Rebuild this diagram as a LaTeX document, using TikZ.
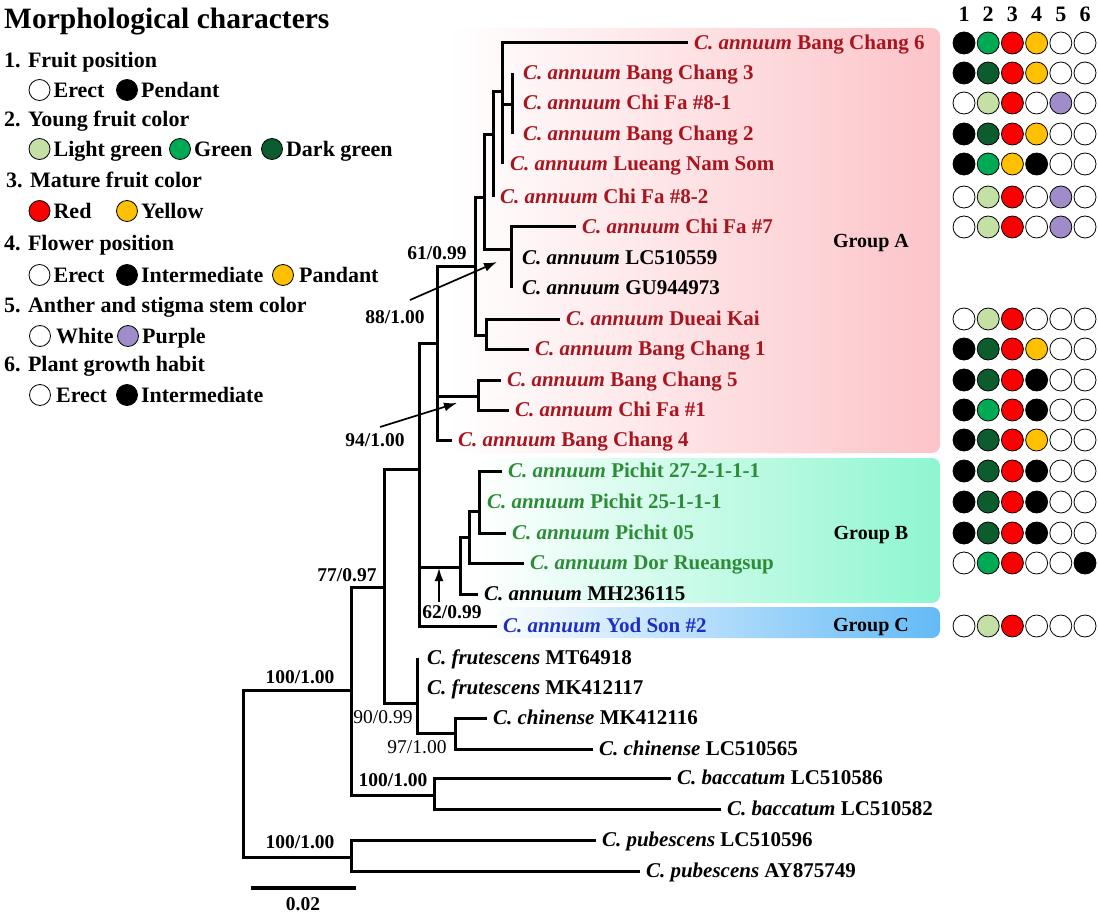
\documentclass[tikz,border=0pt]{standalone}
\usepackage{fontspec}
\setmainfont{Liberation Serif}
\usetikzlibrary{positioning,arrows.meta}
\definecolor{lgreen}{RGB}{197,224,165}
\definecolor{mgreen}{RGB}{0,170,85}
\definecolor{dgreen}{RGB}{12,92,46}
\definecolor{fred}{RGB}{250,0,0}
\definecolor{fyellow}{RGB}{255,192,0}
\definecolor{fpurple}{RGB}{160,140,200}
\definecolor{txtred}{RGB}{170,20,30}
\definecolor{txtgreen}{RGB}{45,140,55}
\definecolor{txtblue}{RGB}{30,45,200}
\definecolor{boxA}{RGB}{252,196,201}
\definecolor{boxB}{RGB}{142,246,208}
\definecolor{boxC}{RGB}{100,186,246}
\newcommand{\Ca}[1]{\textit{C. annuum} #1}
\newcommand{\Cs}[2]{\textit{C. #1} #2}
\tikzset{
	br/.style={line width=3pt},
	arr/.style={line width=1.7pt, -{Latex[length=13pt,width=9pt]}},
	taxon/.style={anchor=west, inner xsep=6pt, inner ysep=0pt, outer sep=0pt, text height=13.5pt, text depth=0pt, font=\fontsize{21}{25}\selectfont\bfseries},
	supp/.style={inner sep=0pt, outer sep=2pt, text height=13pt, text depth=0pt, font=\fontsize{19.5}{23}\selectfont\bfseries},
	suppthin/.style={supp, font=\fontsize{19.5}{23}\selectfont},
	grp/.style={inner sep=0pt, text height=13pt, text depth=0pt, font=\fontsize{20}{24}\selectfont\bfseries},
	hdr/.style={inner sep=0pt, text height=14pt, text depth=0pt, font=\fontsize{22}{26}\selectfont\bfseries},
	dot/.style={circle, draw=black, line width=0.8pt, minimum size=22pt, inner sep=0pt},
	ldot/.style={circle, draw=black, line width=0.8pt, minimum size=21pt, inner sep=0pt},
	leg/.style={anchor=west, inner sep=0pt, text height=14.5pt, text depth=0pt, font=\fontsize{22}{26}\selectfont\bfseries},
	ttl/.style={anchor=west, inner sep=0pt, text height=19pt, text depth=0pt, font=\fontsize{29.5}{34}\selectfont\bfseries}
}
\begin{document}
\begin{tikzpicture}[x=1pt,y=-1pt]
	\useasboundingbox (0,0) rectangle (1098,920);
	\shade[rounded corners=8pt, left color=white, right color=boxA] (447,28) rectangle (940,453);
	\shade[rounded corners=8pt, left color=white, right color=boxB] (476,458) rectangle (940,603);
	\shade[rounded corners=8pt, left color=white, right color=boxC] (486,607) rectangle (940,638);
	\node[grp] (gA) at (871,241) {Group A};
	\node[grp] (gB) at (871,533) {Group B};
	\node[grp] (gC) at (871,625) {Group C};

	\node[ttl] (title) at (4,19) {Morphological characters};
	\node[leg] (c1) at (4,60) {1. Fruit position};
	\node[ldot, fill=white] (d1a) at (39.5,90) {};
	\node[leg, right=3pt of d1a] (t1a) {Erect};
	\node[ldot, fill=black] (d1b) at (127,90) {};
	\node[leg, right=3pt of d1b] (t1b) {Pendant};
	\node[leg] (c2) at (4,119) {2. Young fruit color};
	\node[ldot, fill=lgreen] (d2a) at (39.5,149) {};
	\node[leg, right=3pt of d2a] (t2a) {Light green};
	\node[ldot, fill=mgreen] (d2b) at (180,149) {};
	\node[leg, right=3pt of d2b] (t2b) {Green};
	\node[ldot, fill=dgreen] (d2c) at (272,149) {};
	\node[leg, right=3pt of d2c] (t2c) {Dark green};
	\node[leg] (c3) at (6,180) {3. Mature fruit color};
	\node[ldot, fill=fred] (d3a) at (39.5,211) {};
	\node[leg, right=3pt of d3a] (t3a) {Red};
	\node[ldot, fill=fyellow] (d3b) at (127,211) {};
	\node[leg, right=3pt of d3b] (t3b) {Yellow};
	\node[leg] (c4) at (4,243) {4. Flower position};
	\node[ldot, fill=white] (d4a) at (39.5,275) {};
	\node[leg, right=3pt of d4a] (t4a) {Erect};
	\node[ldot, fill=black] (d4b) at (127,275) {};
	\node[leg, right=3pt of d4b] (t4b) {Intermediate};
	\node[ldot, fill=fyellow] (d4c) at (283,275) {};
	\node[leg, right=5pt of d4c] (t4c) {Pandant};
	\node[leg] (c5) at (4,305) {5. Anther and stigma stem color};
	\node[ldot, fill=white] (d5a) at (40,336) {};
	\node[leg, right=5pt of d5a] (t5a) {White};
	\node[ldot, fill=fpurple] (d5b) at (128,336) {};
	\node[leg, right=3pt of d5b] (t5b) {Purple};
	\node[leg] (c6) at (4,364) {6. Plant growth habit};
	\node[ldot, fill=white] (d6a) at (40,395) {};
	\node[leg, right=5pt of d6a] (t6a) {Erect};
	\node[ldot, fill=black] (d6b) at (127,395) {};
	\node[leg, right=3pt of d6b] (t6b) {Intermediate};

	\node[taxon, text=txtred] (bcsix) at (688,43) {\Ca{Bang Chang 6}};
	\node[taxon, text=txtred] (bcthree) at (517,73) {\Ca{Bang Chang 3}};
	\node[taxon, text=txtred] (cfeightone) at (517,103) {\Ca{Chi Fa \#8-1}};
	\node[taxon, text=txtred] (bctwo) at (517,134) {\Ca{Bang Chang 2}};
	\node[taxon, text=txtred] (lns) at (504,164) {\Ca{Lueang Nam Som}};
	\node[taxon, text=txtred] (cfeighttwo) at (494,197) {\Ca{Chi Fa \#8-2}};
	\node[taxon, text=txtred] (cfseven) at (576,227) {\Ca{Chi Fa \#7}};
	\node[taxon] (lcfivenine) at (516,258) {\Ca{LC510559}};
	\node[taxon] (gunine) at (516,288) {\Ca{GU944973}};
	\node[taxon, text=txtred] (dk) at (560,319) {\Ca{Dueai Kai}};
	\node[taxon, text=txtred] (bcone) at (529,349) {\Ca{Bang Chang 1}};
	\node[taxon, text=txtred] (bcfive) at (501,380) {\Ca{Bang Chang 5}};
	\node[taxon, text=txtred] (cfone) at (509,410) {\Ca{Chi Fa \#1}};
	\node[taxon, text=txtred] (bcfour) at (452,440) {\Ca{Bang Chang 4}};
	\node[taxon, text=txtgreen] (ptseven) at (502,471) {\Ca{Pichit 27-2-1-1-1}};
	\node[taxon, text=txtgreen] (ptfive) at (481,502) {\Ca{Pichit 25-1-1-1}};
	\node[taxon, text=txtgreen] (ptzero) at (506,533) {\Ca{Pichit 05}};
	\node[taxon, text=txtgreen] (dor) at (524,563) {\Ca{Dor Rueangsup}};
	\node[taxon] (mh) at (478,594) {\Ca{MH236115}};
	\node[taxon, text=txtblue] (yod) at (497,626) {\Ca{Yod Son \#2}};
	\node[taxon] (mteight) at (421,658) {\Cs{frutescens}{MT64918}};
	\node[taxon] (mkseven) at (421,688) {\Cs{frutescens}{MK412117}};
	\node[taxon] (mksix) at (487,718) {\Cs{chinense}{MK412116}};
	\node[taxon] (lcfive) at (593,749) {\Cs{chinense}{LC510565}};
	\node[taxon] (lcsix) at (671,778) {\Cs{baccatum}{LC510586}};
	\node[taxon] (lctwo) at (721,809) {\Cs{baccatum}{LC510582}};
	\node[taxon] (lcpub) at (596,840) {\Cs{pubescens}{LC510596}};
	\node[taxon] (ay) at (640,871) {\Cs{pubescens}{AY875749}};

	\coordinate (root) at (243,773);
	\coordinate (nA) at (351,690);
	\coordinate (nPub) at (351,857);
	\coordinate (nBac) at (434,795);
	\coordinate (n77) at (384,587);
	\coordinate (nFC) at (417,703);
	\coordinate (nCh) at (455,733);
	\coordinate (n6) at (419,469);
	\coordinate (n5) at (437,343);
	\coordinate (nB) at (460,567);
	\coordinate (nB2) at (469,537);
	\coordinate (nB3) at (479,511);
	\coordinate (n4) at (475,267);
	\coordinate (nBC5) at (478,396);
	\coordinate (n3) at (484,198);
	\coordinate (nDK) at (486,335);
	\coordinate (n2) at (493,135);
	\coordinate (nTrio) at (511,250);
	\coordinate (n1) at (502,92);
	\coordinate (nBC3) at (512,105);

	\draw[br] (root) |- (nA);
	\draw[br] (root) |- (nPub);
	\draw[br] (nA) |- (n77);
	\draw[br] (nA) |- (nBac);
	\draw[br] (n77) |- (n6);
	\draw[br] (n77) |- (nFC);
	\draw[br] (n6) |- (n5);
	\draw[br] (n6) |- (nB);
	\draw[br] (n6) |- (yod);
	\draw[br] (n5) |- (n4);
	\draw[br] (n5) |- (nBC5);
	\draw[br] (n5) |- (bcfour);
	\draw[br] (n4) |- (n3);
	\draw[br] (n4) |- (nDK);
	\draw[br] (n3) |- (n2);
	\draw[br] (n3) |- (nTrio);
	\draw[br] (n2) |- (n1);
	\draw[br] (n2) -- (n2 |- cfeighttwo);
	\draw[br] (n1) |- (bcsix);
	\draw[br] (n1) |- (nBC3);
	\draw[br] (n1) -- (n1 |- lns);
	\draw[br] (nBC3) -- (nBC3 |- bcthree);
	\draw[br] (nBC3) -- (nBC3 |- bctwo);
	\draw[br] (nTrio) |- (cfseven);
	\draw[br] (nTrio) -- (nTrio |- gunine);
	\draw[br] (nDK) |- (dk);
	\draw[br] (nDK) |- (bcone);
	\draw[br] (nBC5) |- (bcfive);
	\draw[br] (nBC5) |- (cfone);
	\draw[br] (nB) |- (nB2);
	\draw[br] (nB) |- (mh);
	\draw[br] (nB2) |- (nB3);
	\draw[br] (nB2) |- (dor);
	\draw[br] (nB3) |- (ptseven);
	\draw[br] (nB3) |- (ptzero);
	\draw[br] (nFC) -- (nFC |- mteight);
	\draw[br] (nFC) |- (nCh);
	\draw[br] (nCh) |- (mksix);
	\draw[br] (nCh) |- (lcfive);
	\draw[br] (nBac) |- (lcsix);
	\draw[br] (nBac) |- (lctwo);
	\draw[br] (nPub) |- (lcpub);
	\draw[br] (nPub) |- (ay);

	\node[supp] (s61) at (437,253) {61/0.99};
	\node[supp] (s88) at (395,317) {88/1.00};
	\node[supp] (s94) at (375,440) {94/1.00};
	\node[supp] (s62) at (452,612) {62/0.99};
	\node[supp] (s77) at (347,575) {77/0.97};
	\node[supp] (s100a) at (300,677) {100/1.00};
	\node[suppthin] (s90) at (383,717) {90/0.99};
	\node[suppthin] (s97) at (417,747) {97/1.00};
	\node[supp] (s100b) at (393,780) {100/1.00};
	\node[supp] (s100c) at (300,842) {100/1.00};
	\coordinate (t88) at (410,300);
	\coordinate (h88) at (497,262);
	\coordinate (t94) at (380,427);
	\coordinate (h94) at (457,403);
	\coordinate (t62) at (439,602);
	\coordinate (h62) at (439,568);
	\draw[arr] (t88) -- (h88);
	\draw[arr] (t94) -- (h94);
	\draw[arr] (t62) -- (h62);

	\coordinate (sbl) at (251,888);
	\coordinate (sbr) at (356,888);
	\draw[line width=3.5pt] (sbl) -- (sbr);
	\node[supp] (sbt) at (303,904) {0.02};

	\foreach \i in {1,...,6}
		\node[hdr] (h\i) at ({964+24.2*(\i-1)},15) {\i};
	\foreach \r/\yy/\cols in {
		a/43/{black,mgreen,fred,fyellow,white,white},
		b/73/{black,dgreen,fred,fyellow,white,white},
		c/103/{white,lgreen,fred,white,fpurple,white},
		d/134/{black,dgreen,fred,fyellow,white,white},
		e/164/{black,mgreen,fyellow,black,white,white},
		f/197/{white,lgreen,fred,white,fpurple,white},
		g/227/{white,lgreen,fred,white,fpurple,white},
		h/319/{white,lgreen,fred,white,white,white},
		i/349/{black,dgreen,fred,fyellow,white,white},
		j/380/{black,dgreen,fred,black,white,white},
		k/410/{black,mgreen,fred,black,white,white},
		l/440/{black,dgreen,fred,fyellow,white,white},
		m/471/{black,dgreen,fred,black,white,white},
		n/502/{black,dgreen,fred,black,white,white},
		o/533/{black,dgreen,fred,black,white,white},
		p/563/{white,mgreen,fred,white,white,black},
		q/626/{white,lgreen,fred,white,white,white}}
		\foreach \c [count=\i] in \cols
			\node[dot, fill=\c] (m\r\i) at ({964+24.2*(\i-1)},\yy) {};
\end{tikzpicture}
\end{document}
